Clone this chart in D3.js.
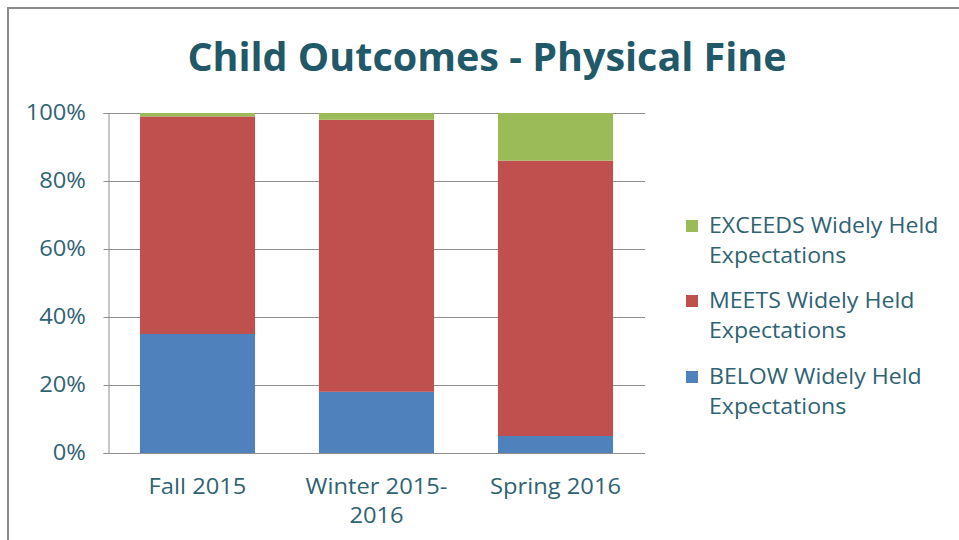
<!DOCTYPE html>
<html>
<head>
<meta charset="utf-8">
<script src="https://cdn.jsdelivr.net/npm/d3@7"></script>
<style>
  html, body { margin: 0; padding: 0; background: #fff; }
  svg { display: block; }
  text { font-family: "Open Sans", Lato, sans-serif; }
</style>
</head>
<body>
<svg id="chart" width="959" height="540"></svg>
<script>
const categories = [["Fall 2015"], ["Winter 2015-", "2016"], ["Spring 2016"]];
const categoryKeys = ["Fall 2015", "Winter 2015-2016", "Spring 2016"];
const below = [35, 18, 5];
const meets = [64, 80, 81];
const exceeds = [1, 2, 14];
const seriesNames = ["BELOW Widely Held Expectations", "MEETS Widely Held Expectations", "EXCEEDS Widely Held Expectations"];
const legendLines = [["EXCEEDS Widely Held", "Expectations"], ["MEETS Widely Held", "Expectations"], ["BELOW Widely Held", "Expectations"]];
const seriesColors = ["#4F81BD", "#C0504D", "#9BBB59"];
const yTicks = [0, 20, 40, 60, 80, 100];
const title = "Child Outcomes - Physical Fine";

(function () {
const svg = d3.select("#chart");
const textColor = "#2F6373";
const fontFam = "'Open Sans', Lato, sans-serif";
const sx = 1.13;   // horizontal stretch of label text
const sxLegend = 1.1;
const fs = 21;

// outer border
svg.append("rect").attr("x", 8).attr("y", 8).attr("width", 960).attr("height", 540)
  .attr("fill", "none").attr("stroke", "#8c8c8c").attr("stroke-width", 2);

// title
svg.append("text").attr("x", 487).attr("y", 71).attr("text-anchor", "middle")
  .attr("font-size", 39.5).attr("font-weight", "bold").attr("fill", "#215968")
  .text(title);

const pLeft = 108, pRight = 645, pTop = 113, pBottom = 453;
const x = d3.scaleBand().domain(categoryKeys).range([pLeft, pRight]).paddingInner(0.357).paddingOuter(0.1785);
const y = d3.scaleLinear().domain([0, 100]).range([pBottom, pTop]);

// gridlines
svg.append("g").selectAll("line").data(yTicks.filter(t => t > 0)).join("line")
  .attr("x1", pLeft).attr("x2", pRight)
  .attr("y1", d => y(d) + 0.5).attr("y2", d => y(d) + 0.5)
  .attr("stroke", "#8f8f8f").attr("stroke-width", 1);

// stacked data
const rows = categoryKeys.map((k, i) => ({ key: k, below: below[i], meets: meets[i], exceeds: exceeds[i] }));
const stacked = d3.stack().keys(["below", "meets", "exceeds"])(rows);

svg.append("g").selectAll("g").data(stacked).join("g")
  .attr("fill", (d, i) => seriesColors[i])
  .selectAll("rect").data(d => d).join("rect")
  .attr("x", d => x(d.data.key))
  .attr("width", x.bandwidth())
  .attr("y", d => y(d[1]))
  .attr("height", d => y(d[0]) - y(d[1]));

// y axis
const yAxis = d3.axisLeft(y).tickValues(yTicks).tickFormat(d => d + "%").tickSize(5).tickPadding(15);
const yg = svg.append("g").attr("transform", `translate(${pLeft + 0.5},0)`).call(yAxis);
yg.select(".domain").attr("stroke", "#8f8f8f");
yg.selectAll(".tick line").attr("stroke", "#8f8f8f");
yg.selectAll(".tick text").attr("font-size", fs).attr("fill", textColor)
  .attr("font-family", fontFam).attr("transform", `scale(${sx},1)`);

// x axis line
svg.append("line").attr("x1", pLeft).attr("x2", pRight).attr("y1", pBottom + 0.5).attr("y2", pBottom + 0.5)
  .attr("stroke", "#8f8f8f").attr("stroke-width", 1);

// category labels
categoryKeys.forEach((k, i) => {
  const cx = x(k) + x.bandwidth() / 2;
  const t = svg.append("text").attr("transform", `translate(${cx},494) scale(${sx},1)`)
    .attr("text-anchor", "middle").attr("font-size", fs).attr("fill", textColor);
  categories[i].forEach((line, j) => {
    t.append("tspan").attr("x", 0).attr("dy", j === 0 ? 0 : 29).text(line);
  });
});

// legend
const legendTop = [226, 301, 377];
const legendColorIdx = [2, 1, 0];
legendLines.forEach((lines, i) => {
  svg.append("rect").attr("x", 686).attr("y", legendTop[i] - 6).attr("width", 12).attr("height", 12)
    .attr("fill", seriesColors[legendColorIdx[i]]);
  const t = svg.append("text").attr("transform", `translate(709,${legendTop[i] + 7}) scale(${sxLegend},1)`)
    .attr("font-size", fs).attr("fill", textColor);
  lines.forEach((line, j) => {
    t.append("tspan").attr("x", 0).attr("dy", j === 0 ? 0 : 30).text(line);
  });
});
})();
</script>
</body>
</html>
